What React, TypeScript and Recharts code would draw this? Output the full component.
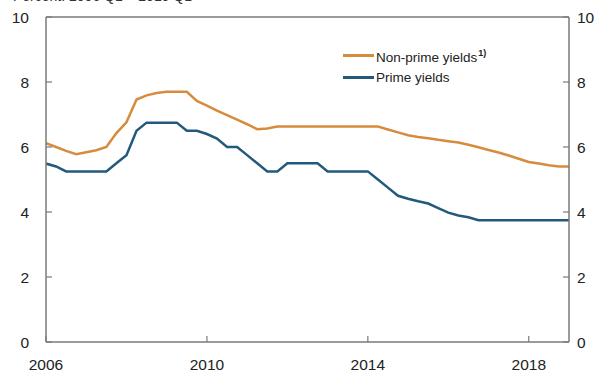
import { Line, LineChart, ReferenceLine, XAxis, YAxis } from "recharts";

const START_YEAR = 2006;
const nonPrime = [
  6.12, 6.0, 5.88, 5.78, 5.84, 5.9, 6.0, 6.43, 6.76, 7.46, 7.59, 7.66, 7.7, 7.7, 7.7, 7.42,
  7.27, 7.12, 6.98, 6.84, 6.7, 6.55, 6.57, 6.63, 6.63, 6.63, 6.63, 6.63, 6.63, 6.63, 6.63, 6.63,
  6.63, 6.63, 6.54, 6.45, 6.36, 6.31, 6.27, 6.22, 6.18, 6.14, 6.07, 5.99, 5.91, 5.83, 5.74, 5.64,
  5.54, 5.49, 5.44, 5.4, 5.4,
];
const prime = [
  5.49, 5.4, 5.25, 5.25, 5.25, 5.25, 5.25, 5.5, 5.75, 6.5, 6.75, 6.75, 6.75, 6.75, 6.5, 6.5,
  6.4, 6.26, 6.0, 6.0, 5.75, 5.5, 5.25, 5.25, 5.5, 5.5, 5.5, 5.5, 5.25, 5.25, 5.25, 5.25,
  5.25, 5.0, 4.75, 4.5, 4.41, 4.33, 4.26, 4.12, 3.98, 3.89, 3.84, 3.75, 3.75, 3.75, 3.75, 3.75,
  3.75, 3.75, 3.75, 3.75, 3.75,
];
const xTicks = [2006, 2010, 2014, 2018];
const yTicks = [0, 2, 4, 6, 8, 10];

const data = nonPrime.map((v, i) => ({ t: START_YEAR + i * 0.25, nonPrime: v, prime: prime[i] }));

const ORANGE = "#D68C3C";
const BLUE = "#235A7C";
const AXIS = "#7a7a7a";
const FONT = "'Liberation Sans', Arial, sans-serif";

const LeftTick = ({ x, y, payload }: any) => (
  <g>
    <line x1={x} x2={x + 6} y1={y} y2={y} stroke={AXIS} strokeWidth={1.2} />
    <text x={x - 17} y={y} dy={5.5} textAnchor="end" fontSize={15.5} fill="#222" fontFamily={FONT}>
      {payload.value}
    </text>
  </g>
);
const RightTick = ({ x, y, payload }: any) => (
  <g>
    <line x1={x} x2={x - 6} y1={y} y2={y} stroke={AXIS} strokeWidth={1.2} />
    <text x={x + 8} y={y} dy={5.5} textAnchor="start" fontSize={15.5} fill="#222" fontFamily={FONT}>
      {payload.value}
    </text>
  </g>
);
const BottomTick = ({ x, y, payload }: any) => (
  <g>
    <line x1={x} x2={x} y1={y} y2={y - 6} stroke={AXIS} strokeWidth={1.2} />
    <text x={x} y={y + 28} textAnchor="middle" fontSize={15.5} fill="#222" fontFamily={FONT}>
      {payload.value}
    </text>
  </g>
);

const LegendBox = () => (
  <div
    style={{
      position: "absolute",
      top: 43,
      left: 343,
      fontFamily: FONT,
      fontSize: 13.5,
      color: "#222",
      lineHeight: "20px",
    }}
  >
    <div style={{ display: "flex", alignItems: "center" }}>
      <span style={{ width: 31, height: 2.5, background: ORANGE, display: "inline-block", marginRight: 2 }} />
      <span>
        Non-prime yields<sup style={{ fontSize: 9, fontWeight: "bold", marginLeft: 1 }}>1)</sup>
      </span>
    </div>
    <div style={{ display: "flex", alignItems: "center" }}>
      <span style={{ width: 31, height: 2.5, background: BLUE, display: "inline-block", marginRight: 2 }} />
      <span>Prime yields</span>
    </div>
  </div>
);

export default function App() {
  return (
    <div style={{ position: "relative", width: 606, height: 372, background: "#fff", overflow: "hidden" }}>
      <style>{`body{margin:0}`}</style>
      <div
        style={{
          position: "absolute",
          left: 13,
          top: -12,
          fontFamily: FONT,
          fontSize: 14,
          color: "#333",
          whiteSpace: "nowrap",
        }}
      >
        Percent. 2006 Q1 – 2019 Q1
      </div>
      <LineChart width={606} height={372} data={data} margin={{ top: 17, right: 0, bottom: 0, left: 0 }}>
        <XAxis
          dataKey="t"
          type="number"
          domain={[2006, 2019]}
          ticks={xTicks}
          tick={BottomTick}
          tickLine={false}
          tickSize={0}
          tickMargin={0}
          height={30}
          stroke={AXIS}
          strokeWidth={1.5}
          allowDataOverflow
        />
        <YAxis
          yAxisId="l"
          domain={[0, 10]}
          ticks={yTicks}
          tick={LeftTick}
          tickLine={false}
          tickSize={0}
          tickMargin={0}
          width={46}
          stroke={AXIS}
          strokeWidth={1.5}
        />
        <YAxis
          yAxisId="r"
          orientation="right"
          domain={[0, 10]}
          ticks={yTicks}
          tick={RightTick}
          tickLine={false}
          tickSize={0}
          tickMargin={0}
          width={37}
          stroke={AXIS}
          strokeWidth={1.5}
        />
        <ReferenceLine yAxisId="l" y={10} stroke={AXIS} strokeWidth={1.5} />
        <Line
          yAxisId="l"
          type="linear"
          dataKey="nonPrime"
          stroke={ORANGE}
          strokeWidth={2.5}
          dot={false}
          isAnimationActive={false}
        />
        <Line
          yAxisId="r"
          type="linear"
          dataKey="prime"
          stroke={BLUE}
          strokeWidth={2.5}
          dot={false}
          isAnimationActive={false}
        />
      </LineChart>
      <LegendBox />
    </div>
  );
}
